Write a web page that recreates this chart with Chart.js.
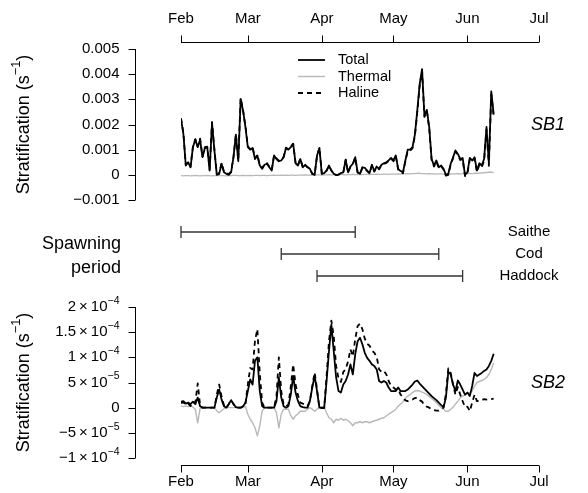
<!DOCTYPE html>
<html>
<head>
<meta charset="utf-8">
<script src="https://cdn.jsdelivr.net/npm/chart.js@4.4.1/dist/chart.umd.min.js"></script>
<style>
  body { margin: 0; background: #fff; }
  #wrap { position: relative; width: 588px; height: 493px; }
  canvas { position: absolute; left: 0; }
</style>
</head>
<body>
<div id="wrap">
  <canvas id="topChart" width="588" height="215" style="top:0px"></canvas>
  <canvas id="spawnChart" width="588" height="85" style="top:215px"></canvas>
  <canvas id="botChart" width="588" height="203" style="top:290px"></canvas>
</div>
<script>
// axes
const months = ['Feb', 'Mar', 'Apr', 'May', 'Jun', 'Jul'];
const monthDays = [0, 28, 59, 89, 120, 150]; // days since 1 Feb

// SB1 values are in units of 0.001 s^-1
const topTicks = [-1, 0, 1, 2, 3, 4, 5];
const topTickLabels = ['\u22120.001', '0', '0.001', '0.002', '0.003', '0.004', '0.005'];

// SB2 values are in units of 1e-5 s^-1
const botTicks = [-10, -5, 0, 5, 10, 15, 20];
const botTickLabels = ['\u22121\u2009\u00d7\u200910^\u22124', '\u22125\u2009\u00d7\u200910^\u22125', '0',
  '5\u2009\u00d7\u200910^\u22125', '1\u2009\u00d7\u200910^\u22124', '1.5\u2009\u00d7\u200910^\u22124', '2\u2009\u00d7\u200910^\u22124'];

// spawning periods (days since 1 Feb)
const species = ['Saithe', 'Cod', 'Haddock'];
const spawnStart = [0, 42, 57];
const spawnEnd = [73, 108, 118];

// SB1 daily series
const topTotal = [2.22,1.63,0.37,0.50,0.30,1.10,1.40,1.10,1.40,0.70,
  1.07,1.10,0.17,2.06,0.97,0.00,0.04,0.44,0.10,0.04,
  0.00,0.10,0.70,1.60,0.54,3.02,2.55,1.90,1.10,1.00,
  1.07,0.63,0.77,0.37,0.24,0.40,0.44,0.30,0.17,0.77,
  0.63,0.54,0.57,0.70,1.07,1.00,1.10,1.23,0.46,0.37,
  0.63,0.30,0.40,0.30,0.24,0.04,0.00,0.77,1.07,0.04,
  0.07,0.17,0.37,0.17,0.04,0.00,0.01,0.07,0.10,0.60,
  0.10,0.33,0.44,0.70,0.10,0.04,0.30,0.28,0.17,0.07,
  0.40,0.15,0.33,0.24,0.40,0.46,0.50,0.57,0.67,0.57,
  0.77,0.24,0.15,0.10,0.57,1.00,1.00,1.10,1.60,2.55,
  3.60,4.20,2.35,2.58,1.90,0.63,0.37,0.57,0.30,0.37,
  0.24,0.00,0.04,0.44,0.70,0.97,0.83,0.63,0.67,0.00,
  0.10,0.67,0.57,0.70,0.17,0.46,0.37,0.63,1.90,0.46,
  3.32,2.42];
const topThermal = [-0.03,-0.04,-0.03,-0.03,-0.04,-0.03,-0.02,-0.03,-0.04,-0.03,
  -0.03,-0.02,-0.03,-0.04,-0.03,-0.03,-0.02,-0.03,-0.03,-0.04,
  -0.03,-0.03,-0.02,-0.02,-0.03,-0.03,-0.02,-0.03,-0.03,-0.02,
  -0.03,-0.02,-0.02,-0.03,-0.02,-0.02,-0.03,-0.02,-0.02,-0.01,
  -0.02,-0.02,-0.01,-0.02,-0.01,-0.02,-0.01,-0.01,-0.02,-0.01,
  -0.01,-0.01,0.00,-0.01,-0.01,0.00,-0.01,0.00,0.00,-0.01,
  0.00,0.00,0.01,0.00,0.00,0.01,0.00,0.01,0.01,0.00,
  0.01,0.01,0.02,0.01,0.01,0.02,0.01,0.02,0.02,0.01,
  0.02,0.02,0.03,0.02,0.02,0.03,0.03,0.02,0.03,0.03,
  0.03,0.04,0.03,0.04,0.04,0.05,0.04,0.05,0.05,0.06,
  0.06,0.05,0.05,0.04,0.05,0.04,0.04,0.03,0.04,0.04,
  0.03,0.03,0.04,0.03,0.04,0.04,0.05,0.04,0.05,0.05,
  0.05,0.06,0.05,0.06,0.06,0.07,0.07,0.08,0.09,0.10,
  0.11,0.09];
const topHaline = [2.25,1.67,0.40,0.53,0.34,1.13,1.42,1.13,1.44,0.73,
  1.10,1.12,0.20,2.10,1.00,0.03,0.06,0.47,0.13,0.08,
  0.03,0.13,0.72,1.62,0.57,3.05,2.57,1.93,1.13,1.02,
  1.10,0.65,0.79,0.40,0.26,0.42,0.47,0.32,0.19,0.78,
  0.65,0.56,0.58,0.72,1.08,1.02,1.11,1.24,0.48,0.38,
  0.64,0.31,0.40,0.31,0.25,0.04,0.01,0.77,1.07,0.05,
  0.07,0.17,0.36,0.17,0.04,-0.01,0.01,0.06,0.09,0.60,
  0.09,0.32,0.42,0.69,0.09,0.02,0.29,0.26,0.15,0.06,
  0.38,0.13,0.30,0.22,0.38,0.43,0.47,0.55,0.64,0.54,
  0.74,0.20,0.12,0.06,0.53,0.95,0.96,1.05,1.55,2.49,
  3.54,4.15,2.30,2.54,1.85,0.59,0.33,0.54,0.26,0.33,
  0.21,-0.03,0.00,0.41,0.66,0.93,0.78,0.59,0.62,-0.05,
  0.05,0.61,0.52,0.64,0.11,0.39,0.30,0.55,1.81,0.36,
  3.21,2.33];

// SB2 daily series
const botTotal = [1.2,1.3,0.8,1.0,0.7,1.2,0.7,2.0,0.3,0,
  0,0,0,0,0,2.0,3.6,1.6,0.3,0,
  0.7,1.5,0.7,0.1,0,0,0.3,1.0,3.3,5.6,
  4.6,9.3,10.0,3.3,0.3,0,0,0,0,0,
  1.3,6.0,2.0,0.3,0,0.3,2.6,6.3,3.0,1.3,
  0.3,0.1,0,0,1.3,4.0,6.3,3.3,0,0,
  0,5.3,11.2,16.5,11.2,6.0,3.3,3.0,4.6,5.3,
  6.6,8.6,6.6,10.6,13.2,13.9,12.6,10.9,9.9,9.3,
  8.6,8.3,7.6,5.3,5.0,5.3,5.0,4.0,3.3,3.3,
  3.3,4.0,3.3,3.3,3.3,3.6,4.1,4.6,5.2,5.4,
  4.8,4.3,3.8,3.3,2.8,2.3,1.9,1.5,1.0,0.5,
  0.1,2.0,7.1,6.6,4.6,3.3,5.4,4.6,3.6,2.6,
  3.0,2.3,4.3,6.9,6.3,6.6,6.9,7.3,7.6,8.3,
  9.3,10.7];
const botThermal = [0.3,0.2,0.3,0.2,0.4,0.1,-0.3,-3.0,-0.2,0,
  0,0,0,0,0,-0.6,-1.0,-0.6,-0.2,0,
  0,0,0,0,0,0,0,0.3,-1.3,-2.3,
  -3.0,-4.0,-5.6,-3.6,-0.7,0,0,0,0,0,
  -1.0,-4.0,-1.3,-0.3,-0.3,-0.3,-1.6,-2.3,-1.6,-1.2,
  -0.7,-0.7,-0.7,-0.3,0,-0.3,-0.7,-0.3,0.1,0.1,
  0.1,-1.0,-2.0,-2.3,-3.0,-2.3,-2.5,-2.1,-2.5,-2.3,
  -2.6,-3.0,-3.6,-3.0,-3.0,-2.8,-3.0,-2.8,-2.8,-3.0,
  -2.8,-2.6,-2.5,-2.3,-2.1,-2.0,-1.65,-1.3,-1.0,-0.7,
  -0.3,0.3,0.7,1.2,1.85,2.3,2.6,3.0,3.3,3.4,
  3.3,3.1,2.9,2.6,2.25,1.85,1.45,1.0,0.5,0,
  -0.3,-0.7,-0.7,-0.3,0.1,0.7,1.3,2.0,2.3,2.5,
  2.8,3.0,3.3,4.3,5.0,5.2,5.4,5.6,6.0,6.6,
  7.6,8.9];
const botHaline = [0.9,1.1,0.5,0.8,0.3,1.1,1.0,4.8,0.5,0,
  0,0,0,0,0,2.6,4.6,2.2,0.5,0,
  0.7,1.5,0.7,0.1,0,0,0.3,0.7,4.6,7.9,
  7.6,13.3,15.6,6.9,1.0,0,0,0,0,0,
  2.3,10.0,3.3,0.6,0.3,0.6,4.2,8.6,4.6,2.5,
  1.0,0.8,0.7,0.3,1.3,4.3,7.0,3.6,-0.1,-0.1,
  -0.1,6.3,13.2,17.3,14.2,8.3,5.8,5.1,7.1,7.6,
  9.2,11.6,10.2,13.6,16.2,16.7,15.6,13.7,12.7,12.3,
  11.4,10.9,10.1,7.6,7.1,7.3,6.65,5.3,4.3,4.0,
  3.6,3.7,2.6,2.1,1.45,1.3,1.5,1.6,1.9,2.0,
  1.5,1.2,0.5,0.2,0,-0.3,-0.5,-0.6,-0.6,-0.3,
  0,2.7,7.8,6.9,4.5,2.6,4.1,2.6,1.3,0.1,
  0.2,-0.7,1.0,2.6,1.3,1.4,1.5,1.7,1.6,1.7,
  1.7,1.8];

const FONT = "'Liberation Sans', Arial, Helvetica, sans-serif";
const yTitle = 'Stratification (s^\u22121^)';

// text with ^superscript^ parts
function richWidth(ctx, str, size) {
  let w = 0;
  str.split('^').forEach((p, i) => {
    ctx.font = (i % 2 ? size * 0.7 : size) + 'px ' + FONT;
    w += ctx.measureText(p).width;
  });
  return w;
}

function drawRich(ctx, str, x, y, align, size) {
  const w = richWidth(ctx, str, size);
  let cx = align === 'right' ? x - w : (align === 'center' ? x - w / 2 : x);
  ctx.textAlign = 'left';
  ctx.textBaseline = 'middle';
  str.split('^').forEach((p, i) => {
    const sup = i % 2 === 1;
    ctx.font = (sup ? size * 0.7 : size) + 'px ' + FONT;
    ctx.fillText(p, cx, sup ? y - size * 0.4 : y);
    cx += ctx.measureText(p).width;
  });
}

// R style axes, detached from the plot area
const rAxes = {
  id: 'rAxes',
  afterDraw(chart, args, o) {
    const ctx = chart.ctx;
    const xs = chart.scales.x, ys = chart.scales.y, area = chart.chartArea;
    ctx.save();
    ctx.strokeStyle = '#000';
    ctx.fillStyle = '#000';
    ctx.lineWidth = 1;

    if (o.xSide) {
      const dir = o.xSide === 'top' ? -1 : 1;
      const base = Math.round(dir < 0 ? area.top - 7 : area.bottom + 7) + 0.5;
      ctx.beginPath();
      ctx.moveTo(xs.getPixelForValue(monthDays[0]), base);
      ctx.lineTo(xs.getPixelForValue(monthDays[monthDays.length - 1]), base);
      monthDays.forEach(d => {
        const px = Math.round(xs.getPixelForValue(d)) + 0.5;
        ctx.moveTo(px, base);
        ctx.lineTo(px, base + dir * 7);
      });
      ctx.stroke();
      months.forEach((m, i) => {
        drawRich(ctx, m, xs.getPixelForValue(monthDays[i]), base + (dir < 0 ? -24 : 16), 'center', 15);
      });
    }

    if (o.yTicks) {
      const ax = Math.round(area.left - 46) + 0.5;
      ctx.beginPath();
      ctx.moveTo(ax, ys.getPixelForValue(o.yTicks[0]));
      ctx.lineTo(ax, ys.getPixelForValue(o.yTicks[o.yTicks.length - 1]));
      o.yTicks.forEach(t => {
        const py = Math.round(ys.getPixelForValue(t)) + 0.5;
        ctx.moveTo(ax, py);
        ctx.lineTo(ax - 7, py);
      });
      ctx.stroke();
      o.yTicks.forEach((t, i) => {
        drawRich(ctx, o.yLabels[i], ax - 16, ys.getPixelForValue(t), 'right', 15);
      });

      ctx.save();
      ctx.translate(24, (area.top + area.bottom) / 2);
      ctx.rotate(-Math.PI / 2);
      drawRich(ctx, yTitle, 0, 0, 'center', 18);
      ctx.restore();
    }

    if (o.panel) {
      ctx.font = 'italic 18px ' + FONT;
      ctx.textAlign = 'center';
      ctx.textBaseline = 'middle';
      ctx.fillText(o.panel, 548, (area.top + area.bottom) / 2);
    }

    if (o.legend) {
      chart.data.datasets.forEach((ds, i) => {
        const ly = o.legend.y + i * 16.5;
        ctx.save();
        ctx.strokeStyle = ds.borderColor;
        ctx.lineWidth = ds.borderWidth;
        ctx.setLineDash(ds.borderDash || []);
        ctx.beginPath();
        ctx.moveTo(o.legend.x, ly);
        ctx.lineTo(o.legend.x + 27, ly);
        ctx.stroke();
        ctx.restore();
        drawRich(ctx, ds.label, o.legend.x + 40, ly, 'left', 14.5);
      });
    }
    ctx.restore();
  }
};

const spawnLabels = {
  id: 'spawnLabels',
  afterDraw(chart) {
    const ctx = chart.ctx, ys = chart.scales.y;
    ctx.save();
    ctx.fillStyle = '#000';
    drawRich(ctx, 'Spawning', 121, 29, 'right', 18);
    drawRich(ctx, 'period', 121, 53, 'right', 18);
    species.forEach((s, i) => drawRich(ctx, s, 529, ys.getPixelForValue(i), 'center', 15));
    ctx.restore();
  }
};

function points(arr) {
  return arr.map((v, i) => ({ x: i, y: v }));
}

function seriesSets(total, thermal, haline) {
  return [
    { label: 'Total', data: points(total), borderColor: '#000', borderWidth: 1.8, order: 1 },
    { label: 'Thermal', data: points(thermal), borderColor: '#b8b8b8', borderWidth: 1.4, order: 3 },
    { label: 'Haline', data: points(haline), borderColor: '#000', borderWidth: 1.8, borderDash: [5, 4], order: 2 }
  ];
}

function baseOptions(yMin, yMax, padding, axes) {
  return {
    responsive: false,
    animation: false,
    events: [],
    layout: { padding: padding },
    elements: { point: { radius: 0 }, line: { tension: 0, borderJoinStyle: 'round' } },
    scales: {
      x: { type: 'linear', display: false, min: 0, max: 150 },
      y: { type: 'linear', display: false, min: yMin, max: yMax }
    },
    plugins: { legend: { display: false }, tooltip: { enabled: false }, rAxes: axes }
  };
}

new Chart(document.getElementById('topChart'), {
  type: 'line',
  data: { datasets: seriesSets(topTotal, topThermal, topHaline) },
  options: baseOptions(-1, 5, { left: 181, right: 49, top: 49, bottom: 15 }, {
    xSide: 'top', yTicks: topTicks, yLabels: topTickLabels, panel: 'SB1', legend: { x: 298, y: 60 }
  }),
  plugins: [rAxes]
});

const spawnOpts = baseOptions(0, 2, { left: 181, right: 49, top: 17, bottom: 24 }, {});
spawnOpts.scales.y.reverse = true;
new Chart(document.getElementById('spawnChart'), {
  type: 'line',
  data: {
    datasets: species.map((s, i) => ({
      label: s,
      data: [{ x: spawnStart[i], y: i }, { x: spawnEnd[i], y: i }],
      borderColor: '#333',
      borderWidth: 1.3,
      pointStyle: 'line',
      pointRotation: 90,
      pointRadius: 6,
      pointBorderWidth: 1.3,
      pointBorderColor: '#333',
      clip: false
    }))
  },
  options: spawnOpts,
  plugins: [spawnLabels]
});

new Chart(document.getElementById('botChart'), {
  type: 'line',
  data: { datasets: seriesSets(botTotal, botThermal, botHaline) },
  options: baseOptions(-10, 20, { left: 181, right: 49, top: 17, bottom: 35 }, {
    xSide: 'bottom', yTicks: botTicks, yLabels: botTickLabels, panel: 'SB2'
  }),
  plugins: [rAxes]
});
</script>
</body>
</html>
